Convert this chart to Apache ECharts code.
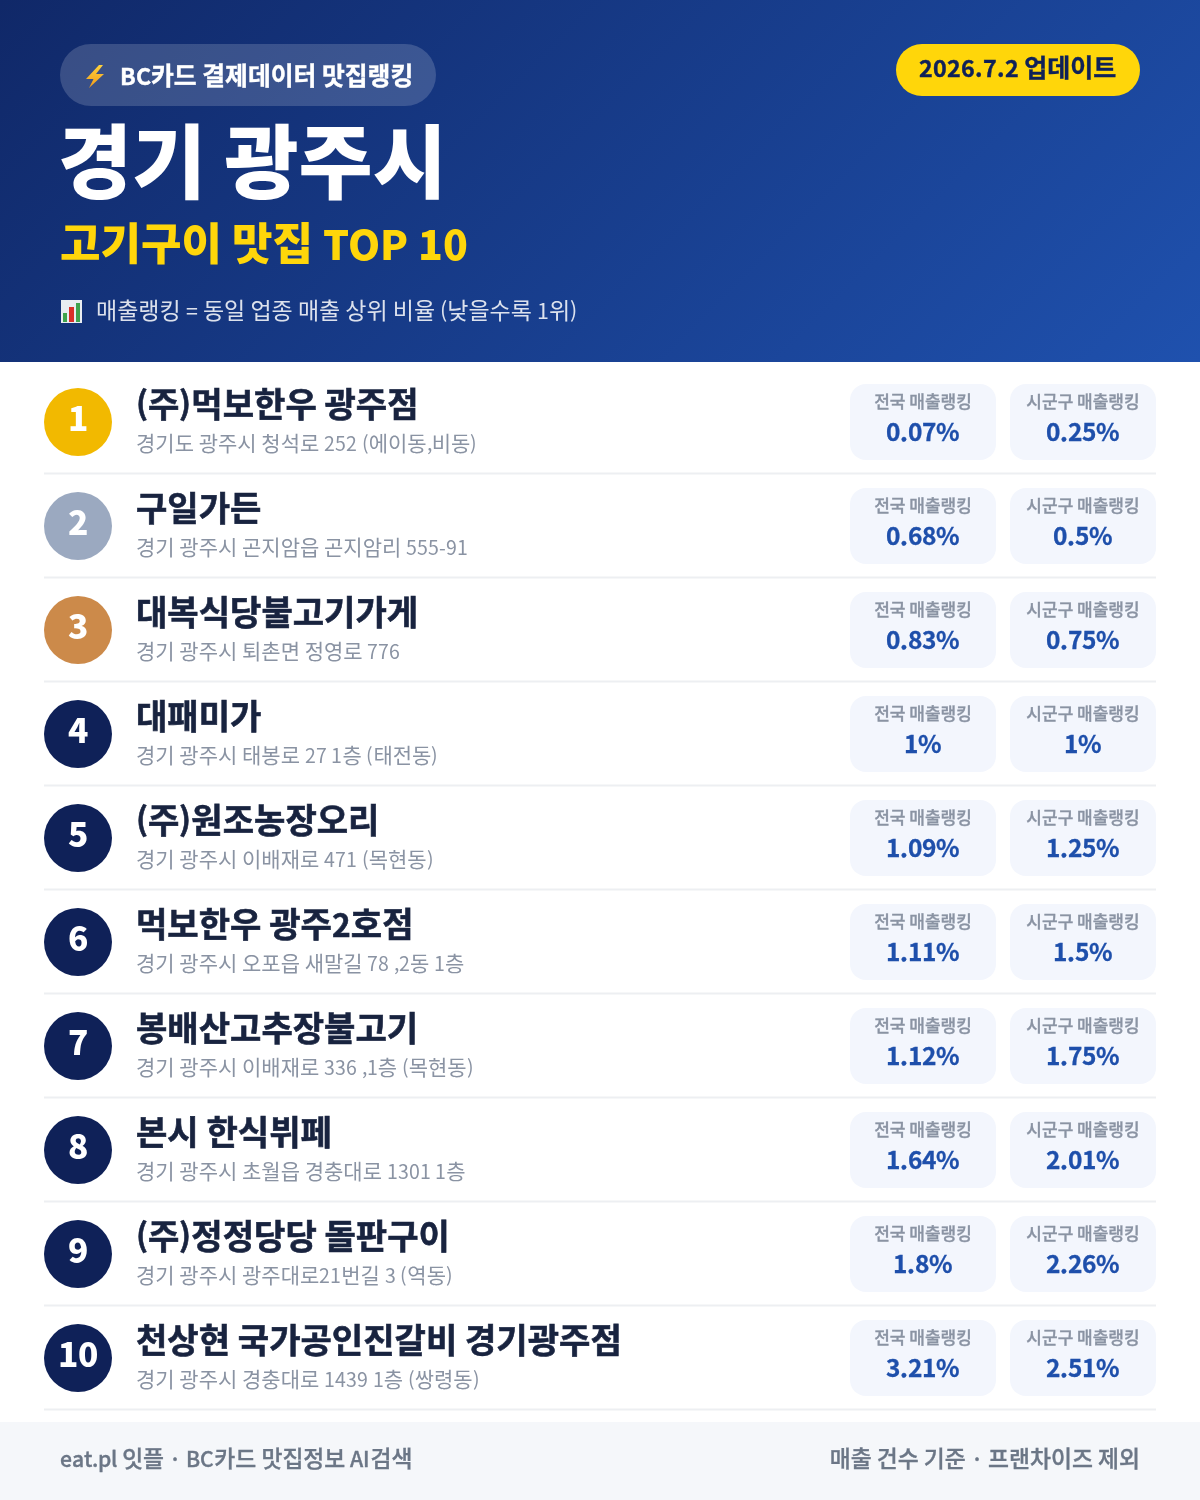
<!DOCTYPE html>
<html lang="ko"><head><meta charset="utf-8">
<style>html,body{margin:0;padding:0;background:#fff}#c{width:1200px;height:1500px}
@font-face{font-family:Lat;font-weight:400;src:local("Noto Sans CJK KR Regular"),local("Noto Sans CJK KR"),local("NotoSansCJKkr-Regular");unicode-range:U+21-7E,U+B7;size-adjust:93%}
@font-face{font-family:Lat;font-weight:500;src:local("Noto Sans CJK KR Medium"),local("NotoSansCJKkr-Medium");unicode-range:U+21-7E,U+B7;size-adjust:93%}
@font-face{font-family:Lat;font-weight:700;src:local("Noto Sans CJK KR Bold"),local("NotoSansCJKkr-Bold");unicode-range:U+21-7E,U+B7;size-adjust:93%}
@font-face{font-family:Lat;font-weight:900;src:local("Noto Sans CJK KR Black"),local("NotoSansCJKkr-Black");unicode-range:U+21-7E,U+B7;size-adjust:93%}
</style>
<script src="https://cdn.jsdelivr.net/npm/echarts@6/dist/echarts.min.js"></script>
</head><body><div id="c"></div>
<script>
const ranks=[1,2,3,4,5,6,7,8,9,10];
const names=["(주)먹보한우 광주점","구일가든","대복식당불고기가게","대패미가","(주)원조농장오리","먹보한우 광주2호점","봉배산고추장불고기","본시 한식뷔페","(주)정정당당 돌판구이","천상현 국가공인진갈비 경기광주점"];
const addresses=["경기도 광주시 청석로 252 (에이동,비동)","경기 광주시 곤지암읍 곤지암리 555-91","경기 광주시 퇴촌면 정영로 776","경기 광주시 태봉로 27 1층 (태전동)","경기 광주시 이배재로 471 (목현동)","경기 광주시 오포읍 새말길 78 ,2동 1층","경기 광주시 이배재로 336 ,1층 (목현동)","경기 광주시 초월읍 경충대로 1301 1층","경기 광주시 광주대로21번길 3 (역동)","경기 광주시 경충대로 1439 1층 (쌍령동)"];
const nationalRank=[0.07,0.68,0.83,1,1.09,1.11,1.12,1.64,1.8,3.21];
const sigunguRank=[0.25,0.5,0.75,1,1.25,1.5,1.75,2.01,2.26,2.51];
const nationalLabel="전국 매출랭킹", sigunguLabel="시군구 매출랭킹";
const FF='Lat,"Noto Sans CJK KR",sans-serif';
const medal=["#F2B900","#9BA9C0","#CC8A4A"], navy="#0F2158";
function T(x,y,text,size,weight,fill,align,bold){
  const style={text:text,fontFamily:FF,fontSize:size,fontWeight:weight,fill:fill,align:align||'left',verticalAlign:'middle'};
  if(bold){style.stroke=fill;style.lineWidth=bold;}
  return {type:'text',x:x,y:y,silent:true,style:style};
}
function draw(){
const chart=echarts.init(document.getElementById('c'),null,{renderer:'canvas',width:1200,height:1500});
const header=[
 {type:'rect',z:0,silent:true,shape:{x:0,y:0,width:1200,height:362},style:{fill:new echarts.graphic.LinearGradient(209.5,-209.5,990.5,571.5,[{offset:0,color:'#102868'},{offset:1,color:'#1F51AE'}],true)}},
 {type:'rect',z:1,silent:true,shape:{x:60,y:44,width:376,height:62,r:31},style:{fill:'rgba(255,255,255,0.17)'}},
 {type:'polygon',z:2,silent:true,shape:{points:[[99,65],[86,79],[93.5,79],[89,88],[104,74],[96,74],[103,65]]},style:{fill:new echarts.graphic.LinearGradient(0,0,0,1,[{offset:0,color:'#FFD23C'},{offset:1,color:'#F09A1A'}])}},
 Object.assign(T(120,76,"BC카드 결제데이터 맛집랭킹",24.8,700,'#FFFFFF','left',0.4),{z:2}),
 {type:'rect',z:1,silent:true,shape:{x:896,y:44,width:244,height:52,r:26},style:{fill:'#FFD60A'}},
 Object.assign(T(1017.5,67.5,"2026.7.2 업데이트",25,700,'#0F2158','center',0.4),{z:2}),
 Object.assign(T(58,161.5,"경기 광주시",80.5,900,'#FFFFFF'),{z:2}),
 Object.assign(T(60,243,"고기구이 맛집 TOP 10",44,900,'#FFD60A'),{z:2}),
 {type:'rect',z:2,silent:true,shape:{x:61,y:300,width:21,height:23},style:{fill:'#E9EDF2'}},
 {type:'rect',z:3,silent:true,shape:{x:63,y:313,width:4,height:9},style:{fill:'#3FA34D'}},
 {type:'rect',z:3,silent:true,shape:{x:69,y:307,width:5,height:15},style:{fill:'#D9302A'}},
 {type:'rect',z:3,silent:true,shape:{x:76,y:303,width:4,height:19},style:{fill:'#3FA34D'}},
 Object.assign(T(96,310.5,"매출랭킹 = 동일 업종 매출 상위 비율 (낮을수록 1위)",23,400,'rgba(255,255,255,0.85)'),{z:2}),
 {type:'rect',z:0,silent:true,shape:{x:0,y:1422,width:1200,height:78},style:{fill:'#F5F7FA'}},
 Object.assign(T(60,1458.5,"eat.pl 잇플 · BC카드 맛집정보 AI검색",22.8,500,'#6B7686','left',0.35),{z:2}),
 Object.assign(T(1140,1458.5,"매출 건수 기준 · 프랜차이즈 제외",22.8,500,'#6B7686','right',0.35),{z:2})
];
function renderRow(params,api){
  const i=api.value(0);
  const p=api.coord([0,i]);
  const cy=p[1];
  const xAt=v=>api.coord([v,i])[0];
  const chip=(x,label,val)=>[
    {type:'rect',shape:{x:x,y:cy-38,width:146,height:76,r:16},style:{fill:'#F3F6FD'}},
    T(x+73,cy-20.5,label,17,500,'#8A93A3','center',0.35),
    T(x+73,cy+9.5,val+'%',26.3,700,'#1E4FAB','center',0.3)
  ];
  return {type:'group',children:[
    {type:'rect',shape:{x:xAt(44),y:cy+50.5,width:1112,height:2},style:{fill:'#EDEFF2'}},
    {type:'circle',shape:{cx:xAt(78),cy:cy,r:34},style:{fill:i<3?medal[i]:navy}},
    T(xAt(78),cy-4.5,String(ranks[i]),36,900,'#FFFFFF','center'),
    T(xAt(136),cy-18,names[i],34.1,700,'#18233F','left',0.6),
    T(xAt(136),cy+21.5,addresses[i],21,400,'#8A93A3')
  ].concat(chip(xAt(850),nationalLabel,nationalRank[i]),chip(xAt(1010),sigunguLabel,sigunguRank[i]))};
}
chart.setOption({
  animation:false,
  backgroundColor:'#FFFFFF',
  graphic:{elements:header},
  grid:{left:0,top:370,width:1200,height:1040,containLabel:false},
  xAxis:{type:'value',min:0,max:1200,show:false},
  yAxis:{type:'category',inverse:true,data:names,show:false},
  series:[{type:'custom',coordinateSystem:'cartesian2d',renderItem:renderRow,silent:true,clip:false,
    encode:{x:1,y:0},data:ranks.map((r,i)=>[i,r,nationalRank[i],sigunguRank[i]])}]
});
}
Promise.all([400,500,700,900].map(w=>document.fonts.load(w+' 20px Lat','A1'))).then(draw,draw);
</script></body></html>
